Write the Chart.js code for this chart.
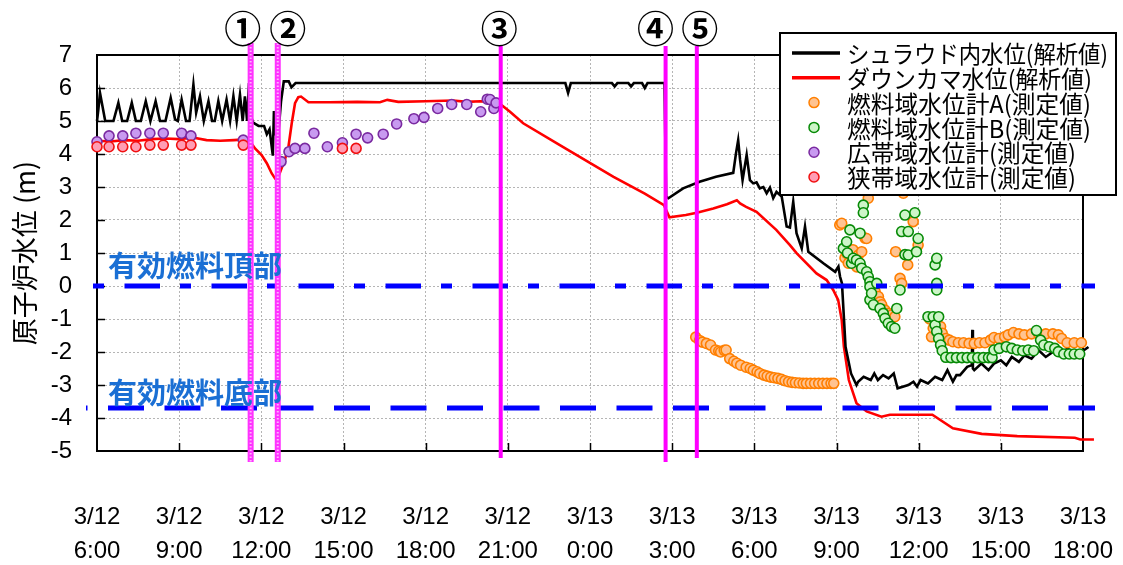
<!DOCTYPE html>
<html><head><meta charset="utf-8">
<script src="https://cdn.jsdelivr.net/npm/chart.js@4.4.1/dist/chart.umd.min.js"></script>
<style>html,body{margin:0;padding:0;background:#fff}#wrap{width:1123px;height:565px;position:relative}</style>
</head><body><div id="wrap"><canvas id="c" width="1123" height="565"></canvas></div>
<script>
// ---- tick labels (hours since 3/12 6:00) ----
const xTickLabels = [['3/12','6:00'],['3/12','9:00'],['3/12','12:00'],['3/12','15:00'],['3/12','18:00'],['3/12','21:00'],['3/13','0:00'],['3/13','3:00'],['3/13','6:00'],['3/13','9:00'],['3/13','12:00'],['3/13','15:00'],['3/13','18:00']];
const yTitle = '原子炉水位 (m)';

// ---- series names ----
const seriesNames = ['シュラウド内水位(解析値)','ダウンカマ水位(解析値)','燃料域水位計A(測定値)','燃料域水位計B(測定値)','広帯域水位計(測定値)','狭帯域水位計(測定値)'];

// ---- analysis: shroud water level ----
const shroudHours = [0,0.05,0.11,0.2,0.3,0.6,0.78,0.92,1.1,1.27,1.42,1.6,1.78,1.95,2.14,2.3,2.5,2.69,2.85,2.95,3.09,3.25,3.38,3.52,3.62,3.76,3.9,4.07,4.2,4.3,4.43,4.57,4.73,4.86,4.98,5.1,5.22,5.32,5.4,5.48,5.55,5.6,5.7,5.9,6.1,6.2,6.3,6.42,6.46,6.5,6.62,6.72,6.82,7.0,7.1,7.25,17.1,17.2,17.3,18.8,18.9,19.0,19.4,19.5,19.6,19.9,20.0,20.1,20.72,20.78,20.86,21.4,22.0,22.6,23.23,23.33,23.41,23.48,23.57,23.72,23.84,23.96,24.08,24.2,24.33,24.45,24.57,24.69,24.81,25.0,25.18,25.3,25.42,25.54,25.73,25.85,25.97,26.52,26.95,27.07,27.13,27.2,27.33,27.53,27.73,27.79,27.99,28.25,28.38,28.51,28.7,28.9,29.09,29.23,29.42,29.62,29.81,29.94,30.07,30.34,30.6,30.86,31.05,31.25,31.38,31.51,31.77,31.94,31.96,31.98,32.03,32.29,32.55,32.75,33.0,33.2,33.4,33.66,33.86,34.12,34.38,34.64,34.9,35.16,35.42,35.68,35.94,36.2,36.4];
const shroudLevel = [5.0,5.35,5.85,5.45,5.0,5.0,5.55,5.0,5.0,5.55,5.0,5.0,5.6,5.0,5.6,5.0,5.0,5.7,5.05,5.0,5.65,5.0,5.0,6.1,5.25,5.75,5.0,5.6,5.0,5.0,5.6,5.0,5.65,5.0,5.75,5.0,5.8,5.0,5.75,5.0,6.15,5.2,4.95,4.85,4.85,4.6,4.75,3.95,5.3,4.6,4.6,5.6,6.2,6.2,6.02,6.15,6.15,5.85,6.15,6.15,6.05,6.15,6.15,6.05,6.15,6.15,6.0,6.15,6.15,2.7,2.66,2.96,3.16,3.31,3.43,4.02,4.42,3.82,3.21,3.97,3.21,3.11,3.14,2.96,3.0,2.81,2.98,2.66,2.85,2.71,1.8,1.77,2.55,1.6,1.14,1.8,1.04,0.69,0.43,0.59,0.28,0.08,-1.84,-2.65,-3.0,-2.9,-2.75,-2.85,-2.65,-2.85,-2.7,-2.8,-2.65,-3.1,-3.05,-3.0,-2.9,-3.05,-2.85,-2.95,-2.75,-2.85,-2.55,-2.9,-2.7,-2.7,-2.45,-2.4,-1.33,-2.5,-2.55,-2.35,-2.55,-2.35,-2.25,-2.4,-2.15,-2.3,-2.1,-2.2,-1.95,-2.15,-2.0,-2.1,-1.9,-2.0,-2.0,-1.85,-2.1];

// ---- analysis: downcomer water level ----
const downcomerHours = [0,0.5,1.0,1.5,2.0,2.5,3.0,3.5,4.0,4.5,5.0,5.53,5.77,6.01,6.2,6.38,6.5,6.62,6.74,6.86,6.99,7.11,7.23,7.35,7.45,7.72,8.5,9.5,10.33,10.6,11.0,12.0,13.0,13.5,14.0,14.5,14.74,15.08,15.56,16.9,18.86,20.0,20.7,20.9,21.5,21.9,22.5,23.0,23.36,23.48,23.7,24.08,24.8,25.3,25.55,26.27,26.64,26.88,27.06,27.19,27.27,27.45,27.73,28.1,28.64,28.95,30.5,31.25,32.3,33.6,35.7,35.9,36.4];
const downcomerLevel = [4.4,4.38,4.42,4.4,4.45,4.47,4.45,4.5,4.42,4.4,4.42,4.45,4.17,3.97,3.72,3.41,3.26,3.31,3.57,3.82,4.22,4.93,5.54,5.72,5.74,5.57,5.57,5.58,5.57,5.64,5.58,5.6,5.62,5.58,5.6,5.58,5.5,5.28,4.93,4.27,3.31,2.8,2.45,2.08,2.15,2.22,2.35,2.48,2.6,2.5,2.4,2.25,1.7,1.24,0.99,0.38,0.18,-0.12,-0.42,-1.03,-1.84,-2.85,-3.55,-3.8,-3.96,-3.9,-3.9,-4.31,-4.48,-4.55,-4.6,-4.65,-4.65];

// ---- measured: fuel-range gauge A ----
const gaugeAHours = [21.86,22.0,22.1,22.25,22.4,22.58,22.7,22.77,22.9,22.97,23.1,23.25,23.36,23.5,23.7,23.85,23.96,24.1,24.2,24.35,24.47,24.6,24.73,24.86,24.99,25.12,25.25,25.38,25.5,25.64,25.78,25.9,26.05,26.2,26.35,26.5,26.65,26.8,26.9,
  27.12,27.19,27.31,27.37,27.43,27.6,27.74,27.8,27.92,28.04,28.1,28.16,28.41,28.53,28.59,28.65,28.77,28.89,29.01,29.13,29.16,29.32,29.38,29.44,29.6,29.8,29.98,30.4,
  30.47,30.53,30.66,30.8,30.86,30.99,31.12,31.25,31.45,31.64,31.84,32.03,32.22,32.42,32.62,32.75,32.94,33.14,33.27,33.46,33.66,33.86,34.12,34.38,34.64,34.9,35.1,35.22,35.42,35.68,35.94];
const gaugeALevel = [-1.55,-1.65,-1.7,-1.74,-1.79,-1.94,-1.97,-2.0,-1.95,-1.94,-2.2,-2.28,-2.34,-2.4,-2.46,-2.5,-2.55,-2.6,-2.65,-2.7,-2.73,-2.76,-2.78,-2.8,-2.83,-2.87,-2.9,-2.92,-2.93,-2.94,-2.95,-2.95,-2.95,-2.95,-2.95,-2.95,-2.95,-2.95,-2.95,
  1.85,1.9,0.85,0.99,0.69,1.1,0.58,0.94,1.04,1.45,1.44,2.66,-0.17,-0.32,-0.48,-0.57,-0.73,-0.83,-0.88,-0.93,1.04,0.23,0.08,2.81,0.64,1.95,1.24,-1.0,
  -1.54,-1.28,-1.18,-1.23,-1.43,-1.59,-1.64,-1.69,-1.72,-1.72,-1.74,-1.74,-1.72,-1.72,-1.64,-1.56,-1.59,-1.54,-1.48,-1.41,-1.45,-1.48,-1.45,-1.45,-1.45,-1.45,-1.48,-1.59,-1.72,-1.72,-1.72];

// ---- measured: fuel-range gauge B ----
const gaugeBHours = [27.25,27.37,27.4,27.49,27.55,27.61,27.73,27.86,27.86,27.92,27.98,27.98,28.1,28.16,28.22,28.22,28.22,28.28,28.35,28.47,28.59,28.71,28.77,28.89,29.01,29.13,29.2,29.32,29.38,29.5,29.5,29.62,29.62,29.86,29.92,29.98,
  30.34,30.53,30.6,30.6,30.66,30.66,30.66,30.66,30.73,30.73,30.8,30.86,30.99,31.18,31.38,31.58,31.77,31.96,32.16,32.36,32.55,32.68,32.75,32.94,33.2,33.4,33.6,33.8,34.0,34.2,34.3,34.45,34.57,34.77,34.97,35.1,35.3,35.5,35.68,35.88];
const gaugeBLevel = [1.14,1.34,1.0,1.7,0.69,0.84,0.79,1.6,0.69,0.54,2.45,2.22,0.43,0.28,0.13,-0.02,-0.42,-0.22,-0.57,0.08,-0.68,-0.83,-0.98,-1.13,-1.23,-1.28,-0.68,-0.12,1.65,2.15,0.95,1.65,0.94,2.22,1.04,1.44,
  -0.93,-0.93,0.64,-1.18,0.84,0.08,-0.12,-1.38,-0.93,-1.59,-1.79,-1.96,-2.16,-2.17,-2.17,-2.17,-2.17,-2.17,-2.17,-2.17,-2.17,-2.17,-1.94,-1.89,-1.84,-1.89,-1.94,-1.96,-1.94,-1.96,-1.35,-1.64,-1.79,-1.84,-1.89,-1.99,-2.06,-2.06,-2.06,-2.06];

// ---- measured: wide-range gauge ----
const wideHours = [0,0.44,0.94,1.42,1.93,2.42,3.09,3.43,5.34,6.72,7.01,7.23,7.59,7.92,8.41,8.96,9.46,9.88,10.45,10.94,11.57,11.94,12.44,12.95,13.5,14.01,14.25,14.35,14.49,14.57];
const wideLevel = [4.37,4.55,4.55,4.63,4.63,4.63,4.63,4.55,4.42,3.77,4.07,4.17,4.17,4.63,4.22,4.34,4.6,4.49,4.6,4.91,5.07,5.11,5.38,5.5,5.5,5.28,5.66,5.65,5.38,5.55];

// ---- measured: narrow-range gauge ----
const narrowHours = [0,0.44,0.94,1.42,1.93,2.42,3.09,3.43,5.34,8.96,9.46];
const narrowLevel = [4.22,4.22,4.22,4.22,4.27,4.27,4.27,4.27,4.27,4.17,4.17];

// ---- reference levels & events ----
const refLevels = [0, -3.7];
const refNames = ['有効燃料頂部','有効燃料底部'];
const eventHours = [5.61, 6.6, 14.74, 20.76, 21.9];
const eventNames = ['①','②','③','④','⑤'];

// styles (not data)
const eventLabelDx = [-8, 10, -1.5, -10, 3];
const eventTextured = [true, true, false, false, false];
const eventTop = [43, 43, 46, 46, 46];
const eventBottom = [462, 462, 458, 462, 458];
const refDash = [[11,20.5,35.5,20],[36,20.5]];
const refStart = [93, 86];
const refDashOffset = [0, 34.5];
const legendTextWidth = [261, 245, 244, 244, 229, 229];

const pts = (h, v) => h.map((x, i) => ({x, y: v[i]}));
const CJK = '"Noto Sans CJK JP","Noto Sans CJK SC",sans-serif';

const markerStyle = [
  {bg:'#ffc391', bd:'#ff7f00'},
  {bg:'#cdf5c8', bd:'#078a07'},
  {bg:'#c89af0', bd:'#7a2aa0'},
  {bg:'#ff9db4', bd:'#f01010'}
];

const overlay = {
  id: 'overlay',
  beforeDatasetsDraw(chart) {
    const {ctx, chartArea: a, scales: {x, y}} = chart;
    ctx.save();
    ctx.strokeStyle = '#000'; ctx.lineWidth = 1.5;
    for (let h = 3; h < 36; h += 3) {
      const px = Math.round(x.getPixelForValue(h)) + 0.5;
      ctx.beginPath(); ctx.moveTo(px, a.bottom); ctx.lineTo(px, a.bottom - 8); ctx.stroke();
    }
    for (let v = -4; v < 7; v++) {
      const py = Math.round(y.getPixelForValue(v)) + 0.5;
      ctx.beginPath(); ctx.moveTo(a.left, py); ctx.lineTo(a.left + 8, py); ctx.stroke();
    }
    ctx.lineWidth = 2;
    ctx.strokeRect(a.left, a.top, a.right - a.left, a.bottom - a.top);
    ctx.restore();
  },
  afterDatasetsDraw(chart) {
    const {ctx, scales: {x, y}} = chart;
    ctx.save();
    refLevels.forEach((lv, i) => {
      const py = y.getPixelForValue(lv);
      ctx.strokeStyle = '#0000ff'; ctx.lineWidth = 5;
      ctx.setLineDash(refDash[i]); ctx.lineDashOffset = refDashOffset[i];
      ctx.beginPath(); ctx.moveTo(refStart[i], py); ctx.lineTo(1095, py); ctx.stroke();
    });
    ctx.setLineDash([]);
    eventHours.forEach((h, i) => {
      const px = x.getPixelForValue(h);
      if (eventTextured[i]) {
        ctx.strokeStyle = '#ff33ff'; ctx.lineWidth = 6;
        ctx.beginPath(); ctx.moveTo(px, eventTop[i]); ctx.lineTo(px, eventBottom[i]); ctx.stroke();
        ctx.strokeStyle = '#ffb3ff'; ctx.lineWidth = 2; ctx.setLineDash([1.5, 2]);
        ctx.beginPath(); ctx.moveTo(px, eventTop[i]); ctx.lineTo(px, eventBottom[i]); ctx.stroke();
        ctx.setLineDash([]);
      } else {
        ctx.strokeStyle = '#ff00ff'; ctx.lineWidth = 4;
        ctx.beginPath(); ctx.moveTo(px, eventTop[i]); ctx.lineTo(px, eventBottom[i]); ctx.stroke();
      }
      ctx.fillStyle = '#000';
      ctx.font = 'bold 37px ' + CJK;
      ctx.textAlign = 'center'; ctx.textBaseline = 'middle';
      ctx.fillText(eventNames[i], px + eventLabelDx[i], 29);
    });
    ctx.fillStyle = '#1a6fd4';
    ctx.font = 'bold 29px ' + CJK;
    ctx.textAlign = 'left'; ctx.textBaseline = 'middle';
    ctx.fillText(refNames[0], 108, 266);
    ctx.fillText(refNames[1], 108, 393);
    ctx.restore();
  },
  afterDraw(chart) {
    const {ctx} = chart;
    ctx.save();
    const L = {x: 780, y: 33, w: 336, h: 162};
    ctx.fillStyle = '#fff'; ctx.fillRect(L.x, L.y, L.w, L.h);
    ctx.strokeStyle = '#000'; ctx.lineWidth = 2; ctx.strokeRect(L.x, L.y, L.w, L.h);
    ctx.font = '24px ' + CJK; ctx.textBaseline = 'middle'; ctx.textAlign = 'left';
    chart.data.datasets.forEach((ds, i) => {
      const ry = 53 + i * 24.8;
      if (ds.showLine) {
        ctx.strokeStyle = ds.borderColor; ctx.lineWidth = 3.5;
        ctx.beginPath(); ctx.moveTo(792, ry); ctx.lineTo(840, ry); ctx.stroke();
      } else {
        ctx.fillStyle = ds.backgroundColor; ctx.strokeStyle = ds.borderColor; ctx.lineWidth = 1.5;
        ctx.beginPath(); ctx.arc(814, ry, 5, 0, Math.PI * 2); ctx.fill(); ctx.stroke();
      }
      ctx.fillStyle = '#000';
      ctx.fillText(ds.label, 847, ry + 1, legendTextWidth[i]);
    });
    ctx.restore();
  }
};

const lineDs = (label, h, v, color) => ({
  label, data: pts(h, v), showLine: true, borderColor: color, backgroundColor: color,
  borderWidth: 2.6, pointRadius: 0, tension: 0, order: 10, clip: 20
});
const markDs = (label, h, v, st, order) => ({
  label, data: pts(h, v), showLine: false, backgroundColor: st.bg, borderColor: st.bd,
  borderWidth: 1.6, pointRadius: 5, order, clip: 20
});

new Chart(document.getElementById('c'), {
  type: 'scatter',
  data: {
    datasets: [
      lineDs(seriesNames[0], shroudHours, shroudLevel, '#000000'),
      lineDs(seriesNames[1], downcomerHours, downcomerLevel, '#ff0000'),
      markDs(seriesNames[2], gaugeAHours, gaugeALevel, markerStyle[0], 5),
      markDs(seriesNames[3], gaugeBHours, gaugeBLevel, markerStyle[1], 4),
      markDs(seriesNames[4], wideHours, wideLevel, markerStyle[2], 3),
      markDs(seriesNames[5], narrowHours, narrowLevel, markerStyle[3], 2)
    ]
  },
  options: {
    responsive: false, animation: false, devicePixelRatio: 1,
    layout: {padding: {left: 0, top: 55, right: 40, bottom: 0}},
    plugins: {legend: {display: false}, tooltip: {enabled: false}},
    scales: {
      x: {
        type: 'linear', min: 0, max: 36,
        afterFit: s => { s.height = 114; s.paddingLeft = 0; s.paddingRight = 0; },
        ticks: {stepSize: 3, autoSkip: false, maxRotation: 0, padding: 50, color: '#000',
          font: {family: '"Liberation Sans", Arial, sans-serif', size: 24, lineHeight: 1.4},
          callback: v => xTickLabels[Math.round(v / 3)]},
        grid: {color: '#b5b5b5', lineWidth: 1, drawTicks: false},
        border: {display: false, dash: [2, 2]}
      },
      y: {
        min: -5, max: 7,
        afterFit: s => { s.width = 97; s.paddingTop = 0; s.paddingBottom = 0; },
        ticks: {stepSize: 1, padding: 25, color: '#000',
          font: {family: '"Liberation Sans", Arial, sans-serif', size: 24}},
        grid: {color: '#b5b5b5', lineWidth: 1, drawTicks: false},
        border: {display: false, dash: [2, 2]},
        title: {display: true, text: yTitle, color: '#000', padding: {top: 9, bottom: 0},
          font: {family: CJK, size: 27}}
      }
    }
  },
  plugins: [overlay]
});
</script></body></html>
